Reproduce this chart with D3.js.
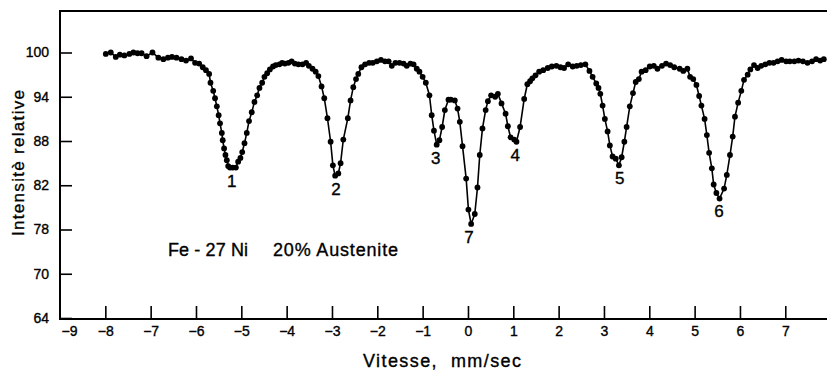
<!DOCTYPE html>
<html>
<head>
<meta charset="utf-8">
<script src="https://cdn.jsdelivr.net/npm/d3@7"></script>
<style>
  body { margin: 0; background: #fff; }
  svg { display: block; font-family: "Liberation Sans", Arial, sans-serif; }
  svg text { stroke: #000; stroke-width: 0.35px; fill: #000; }
</style>
</head>
<body>
<div id="chart"></div>
<script>
// Mössbauer spectrum, Fe-27 Ni, 20% austenite
const velocity = [
  -7.99, -7.88, -7.77, -7.68, -7.58, -7.47, -7.38, -7.29, -7.20, -7.09,
  -6.96, -6.83, -6.72, -6.62, -6.53, -6.43, -6.32, -6.22, -6.11, -6.02,
  -5.93, -5.85, -5.78, -5.71, -5.68, -5.62, -5.58, -5.54, -5.50, -5.47,
  -5.43, -5.41, -5.38, -5.35, -5.32, -5.29, -5.25, -5.19, -5.12, -5.07,
  -5.02, -4.98, -4.93, -4.88, -4.83, -4.77, -4.71, -4.65, -4.60, -4.54,
  -4.49, -4.43, -4.37, -4.30, -4.24, -4.16, -4.10, -4.04, -3.96, -3.89,
  -3.82, -3.74, -3.65, -3.57, -3.51, -3.43, -3.36, -3.30, -3.23, -3.17,
  -3.10, -3.03, -2.98, -2.93, -2.86, -2.81, -2.75, -2.65, -2.59, -2.53,
  -2.47, -2.42, -2.35, -2.27, -2.18, -2.10, -2.01, -1.92, -1.83, -1.75,
  -1.68, -1.60, -1.51, -1.42, -1.35, -1.27, -1.20, -1.13, -1.07, -1.00,
  -0.93, -0.85, -0.80, -0.75, -0.69, -0.63, -0.57, -0.51, -0.43, -0.38,
  -0.29, -0.23, -0.18, -0.12, -0.04, 0.01, 0.07, 0.15, 0.21, 0.26,
  0.32, 0.39, 0.44, 0.51, 0.60, 0.66, 0.74, 0.83, 0.88, 0.94,
  1.02, 1.07, 1.15, 1.24, 1.31, 1.37, 1.42, 1.49, 1.57, 1.66,
  1.76, 1.85, 1.95, 2.04, 2.12, 2.21, 2.31, 2.40, 2.49, 2.59,
  2.68, 2.75, 2.83, 2.88, 2.92, 2.97, 3.02, 3.08, 3.13, 3.19,
  3.26, 3.33, 3.39, 3.45, 3.50, 3.57, 3.64, 3.70, 3.77, 3.83,
  3.92, 4.01, 4.10, 4.18, 4.28, 4.37, 4.46, 4.55, 4.67, 4.75,
  4.84, 4.90, 4.97, 5.04, 5.10, 5.15, 5.22, 5.27, 5.32, 5.38,
  5.42, 5.48, 5.55, 5.65, 5.71, 5.78, 5.84, 5.89, 5.96, 6.03,
  6.09, 6.17, 6.23, 6.31, 6.39, 6.47, 6.56, 6.65, 6.74, 6.83,
  6.92, 7.02, 7.10, 7.20, 7.29, 7.39, 7.49, 7.59, 7.68, 7.77, 7.85
]
const intensity = [
  99.8, 100.0, 99.4, 99.7, 99.6, 99.8, 100.0, 99.9, 99.9, 99.5,
  100.0, 99.3, 99.1, 99.3, 99.4, 99.3, 99.1, 98.9, 99.2, 98.6,
  98.5, 98.0, 97.6, 97.1, 95.9, 94.8, 93.8, 92.7, 91.5, 90.4,
  89.1, 88.1, 87.0, 86.1, 85.4, 84.6, 84.4, 84.4, 84.4, 85.2,
  85.7, 86.5, 87.7, 89.1, 90.7, 91.9, 93.3, 94.2, 95.2, 95.9,
  96.7, 97.2, 97.7, 98.1, 98.3, 98.4, 98.6, 98.5, 98.6, 98.8,
  98.5, 98.4, 98.4, 98.6, 98.2, 97.8, 97.4, 96.8, 95.4, 93.8,
  91.1, 87.9, 84.7, 83.3, 83.6, 85.0, 88.2, 91.1, 93.5, 95.3,
  96.4, 97.1, 98.0, 98.4, 98.6, 98.6, 98.8, 99.0, 98.8, 98.8,
  98.2, 98.6, 98.6, 98.5, 98.2, 98.5, 98.4, 97.8, 97.4, 96.7,
  95.9, 94.2, 91.5, 89.4, 87.5, 88.1, 89.9, 92.2, 93.6, 93.6,
  93.5, 92.4, 90.6, 87.3, 82.9, 79.8, 78.5, 79.4, 81.8, 86.1,
  89.7, 92.2, 93.4, 94.2, 94.0, 94.4, 93.1, 91.7, 90.0, 88.5,
  88.2, 87.9, 89.9, 93.7, 95.7, 96.1, 96.5, 96.9, 97.4, 97.6,
  97.9, 98.1, 98.2, 98.0, 97.9, 98.4, 98.1, 98.2, 98.3, 98.4,
  97.5, 96.7, 95.8, 95.2, 94.4, 92.8, 91.0, 89.3, 87.4, 85.9,
  85.6, 84.7, 85.8, 87.9, 89.9, 92.7, 94.5, 96.0, 96.4, 97.4,
  97.6, 98.1, 98.2, 97.8, 98.2, 98.5, 98.3, 98.0, 97.8, 97.5,
  97.8, 96.7, 96.4, 95.6, 94.1, 92.8, 91.0, 88.8, 86.4, 84.3,
  82.1, 81.3, 80.8, 81.7, 83.4, 86.1, 88.6, 91.3, 93.2, 94.8,
  96.3, 97.0, 97.7, 98.3, 97.9, 98.2, 98.4, 98.6, 98.6, 98.8,
  99.0, 98.8, 98.8, 98.8, 98.9, 98.8, 98.6, 98.8, 99.1, 98.9, 99.1
]

const xTicks = [-9, -8, -7, -6, -5, -4, -3, -2, -1, 0, 1, 2, 3, 4, 5, 6, 7, 8]
// the printed scale is evenly spaced, labels as printed
const yTicks = [64, 70, 78, 82, 88, 94, 100]

const peakNames = ['1', '2', '3', '4', '5', '6', '7']
const peakVelocity = [-5.21, -2.91, -0.71, 1.04, 3.35, 5.54, 0.02]

const width = 827
const height = 371
const plotLeft = 60
const plotTop = 11
const plotBottom = 318

const svg = d3.select('#chart')
  .append('svg')
  .attr('width', width)
  .attr('height', height)

svg.append('rect')
  .attr('width', width)
  .attr('height', height)
  .attr('fill', '#fff')

const x = d3.scaleLinear()
  .domain([-9, 8])
  .range([plotLeft, plotLeft + 17 * 45.33])

const yStep = (plotBottom - 52.5) / (yTicks.length - 1)
const y = d3.scaleLinear()
  .domain(yTicks)
  .range(yTicks.map((d, i) => plotBottom - i * yStep))

const data = velocity.map((v, i) => ({ v, I: intensity[i] }))

// frame: left axis, top line and bottom axis
svg.append('path')
  .attr('d', `M${width},${plotTop}H${plotLeft}V${plotBottom + 1}H${width}`)
  .attr('fill', 'none')
  .attr('stroke', '#000')
  .attr('stroke-width', 2)

// x axis
const xAxis = svg.append('g')
  .attr('transform', `translate(0,${plotBottom})`)
  .call(d3.axisBottom(x).tickValues(xTicks).tickSize(-12).tickPadding(8))
xAxis.select('.domain').remove()
xAxis.selectAll('.tick line')
  .attr('stroke-width', 1.6)
  .filter(d => d === -9).remove()
xAxis.selectAll('.tick text')
  .attr('font-size', 14)
  .attr('dx', d => d === -9 ? 9 : 0)

// y axis
const yAxis = svg.append('g')
  .attr('transform', `translate(${plotLeft},0)`)
  .call(d3.axisLeft(y).tickValues(yTicks).tickSize(-12).tickPadding(11))
yAxis.select('.domain').remove()
yAxis.selectAll('.tick line').attr('stroke-width', 1.6)
yAxis.selectAll('.tick text')
  .attr('font-size', 14)

// spectrum
const line = d3.line()
  .x(d => x(d.v))
  .y(d => y(d.I))

svg.append('path')
  .datum(data)
  .attr('d', line)
  .attr('fill', 'none')
  .attr('stroke', '#000')
  .attr('stroke-width', 1.6)

svg.append('g')
  .selectAll('circle')
  .data(data)
  .enter()
  .append('circle')
  .attr('cx', d => x(d.v))
  .attr('cy', d => y(d.I))
  .attr('r', 2.9)
  .attr('fill', '#000')

// peak numbers under each minimum
svg.append('g')
  .selectAll('text')
  .data(peakNames)
  .enter()
  .append('text')
  .attr('x', (d, i) => x(peakVelocity[i]))
  .attr('y', (d, i) => {
    const near = data.filter(p => Math.abs(p.v - peakVelocity[i]) < 0.2)
    return y(d3.min(near, p => p.I)) + 13
  })
  .attr('dy', '0.35em')
  .attr('text-anchor', 'middle')
  .attr('font-size', 17)
  .text(d => d)

// sample annotation
svg.append('text')
  .attr('x', 168)
  .attr('y', 256)
  .attr('font-size', 18)
  .attr('textLength', 80)
  .attr('lengthAdjust', 'spacing')
  .text('Fe - 27 Ni')

svg.append('text')
  .attr('x', 273)
  .attr('y', 256)
  .attr('font-size', 18)
  .attr('textLength', 125)
  .attr('lengthAdjust', 'spacing')
  .text('20% Austenite')

// axis titles
svg.append('text')
  .attr('x', 363)
  .attr('y', 367)
  .attr('font-size', 18)
  .attr('textLength', 158)
  .attr('lengthAdjust', 'spacing')
  .style('white-space', 'pre')
  .text('Vitesse,  mm/sec')

svg.append('text')
  .attr('transform', 'translate(24,236) rotate(-90)')
  .attr('font-size', 17)
  .attr('textLength', 146)
  .attr('lengthAdjust', 'spacing')
  .text('Intensitè relative')
</script>
</body>
</html>
